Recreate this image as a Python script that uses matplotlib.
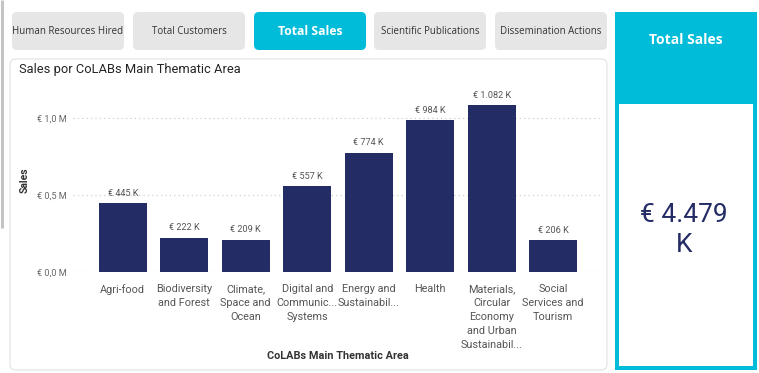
import matplotlib.pyplot as plt
from matplotlib.patches import FancyBboxPatch, Rectangle

# dados do gráfico
areas = ["Agri-food", "Biodiversity\nand Forest", "Climate,\nSpace and\nOcean",
         "Digital and\nCommunic...\nSystems", "Energy and\nSustainabil...", "Health",
         "Materials,\nCircular\nEconomy\nand Urban\nSustainabil...",
         "Social\nServices and\nTourism"]
sales_k = [445, 222, 209, 557, 774, 984, 1082, 206]   # em milhares de €
y_ticks_k = [0, 500, 1000]
buttons = ["Human Resources Hired", "Total Customers", "Total Sales",
           "Scientific Publications", "Dissemination Actions"]
selected = "Total Sales"

NAVY = "#242C66"
CYAN = "#00BCD9"
W, H = 759, 373

fig = plt.figure(figsize=(W / 100, H / 100), dpi=100)
bg = fig.add_axes([0, 0, 1, 1])
bg.set_xlim(0, W)
bg.set_ylim(H, 0)
bg.axis("off")

# barra de scroll à esquerda
bg.plot([2, 2], [0, 228], color="#c4c4c4", lw=2.2, solid_capstyle="butt")

# botões
bx = [12, 133, 254, 374, 495]
for x0, name in zip(bx, buttons):
    sel = name == selected
    bg.add_patch(FancyBboxPatch((x0 + 5, 17), 112 - 10, 38 - 10,
                                boxstyle="round,pad=5", lw=0,
                                fc=CYAN if sel else "#E6E6E6"))
    bg.text(x0 + 56, 31.5, name, ha="center", va="center",
            fontsize=8.8 if sel else 7.0, fontweight="bold" if sel else "normal",
            color="white" if sel else "#333333", family="Open Sans")

# cartão do gráfico
bg.add_patch(FancyBboxPatch((10 + 6, 59 + 6), 597 - 12, 311 - 12,
                            boxstyle="round,pad=6", lw=0.8,
                            fc="white", ec="#e2e2e2"))
bg.text(19, 70, "Sales por CoLABs Main Thematic Area", ha="left", va="center",
        fontsize=9.3, color="#252525", family="Roboto")
bg.text(25, 180, "Sales", rotation=90, ha="center", va="center",
        fontsize=7.5, fontweight="bold", color="#333333", family="Roboto")
bg.text(338, 356, "CoLABs Main Thematic Area", ha="center", va="center",
        fontsize=7.8, fontweight="bold", color="#333333", family="Roboto")

# cartão do total
bg.add_patch(Rectangle((615, 12), 142, 358, fc=CYAN, lw=0))
bg.add_patch(Rectangle((619, 104), 134, 262, fc="white", lw=0))
bg.text(686, 40, "Total Sales", ha="center", va="center", fontsize=10,
        fontweight="bold", color="white", family="Open Sans")
total = "€ {:,} K".format(sum(sales_k)).replace(",", ".").replace(" K", "\nK")
bg.text(684, 230, total, ha="center", va="center", fontsize=19,
        color=NAVY, family="Roboto", linespacing=1.3)

# eixo das barras
ax = fig.add_axes([73 / W, 1 - 272 / H, (601 - 73) / W, (272 - 85) / H])
x = list(range(len(areas)))
bars = ax.bar(x, sales_k, width=0.78, color=NAVY, zorder=3)
ax.bar_label(bars, labels=["€ {:,} K".format(v).replace(",", ".") for v in sales_k],
             padding=4, fontsize=6.6, color="#555555", family="Roboto")
ax.set_xlim(-0.81, 7.78)
ax.set_ylim(0, 1214)
ax.set_yticks(y_ticks_k)
ax.set_yticklabels(["€ {:.1f} M".format(v / 1000).replace(".", ",") for v in y_ticks_k],
                   fontsize=6.6, color="#666666", family="Roboto")
ax.set_xticks(x)
ax.set_xticklabels(areas, fontsize=7.8, color="#555555", family="Roboto",
                   linespacing=1.5)
ax.tick_params(length=0, pad=4.5, axis="y")
ax.tick_params(length=0, pad=8.5, axis="x")
ax.grid(axis="y", color="#cfcfcf", ls=(0, (1, 2.5)), lw=0.9, zorder=0)
for s in ax.spines.values():
    s.set_visible(False)
ax.patch.set_alpha(0)

fig.savefig("out.png", dpi=100)
